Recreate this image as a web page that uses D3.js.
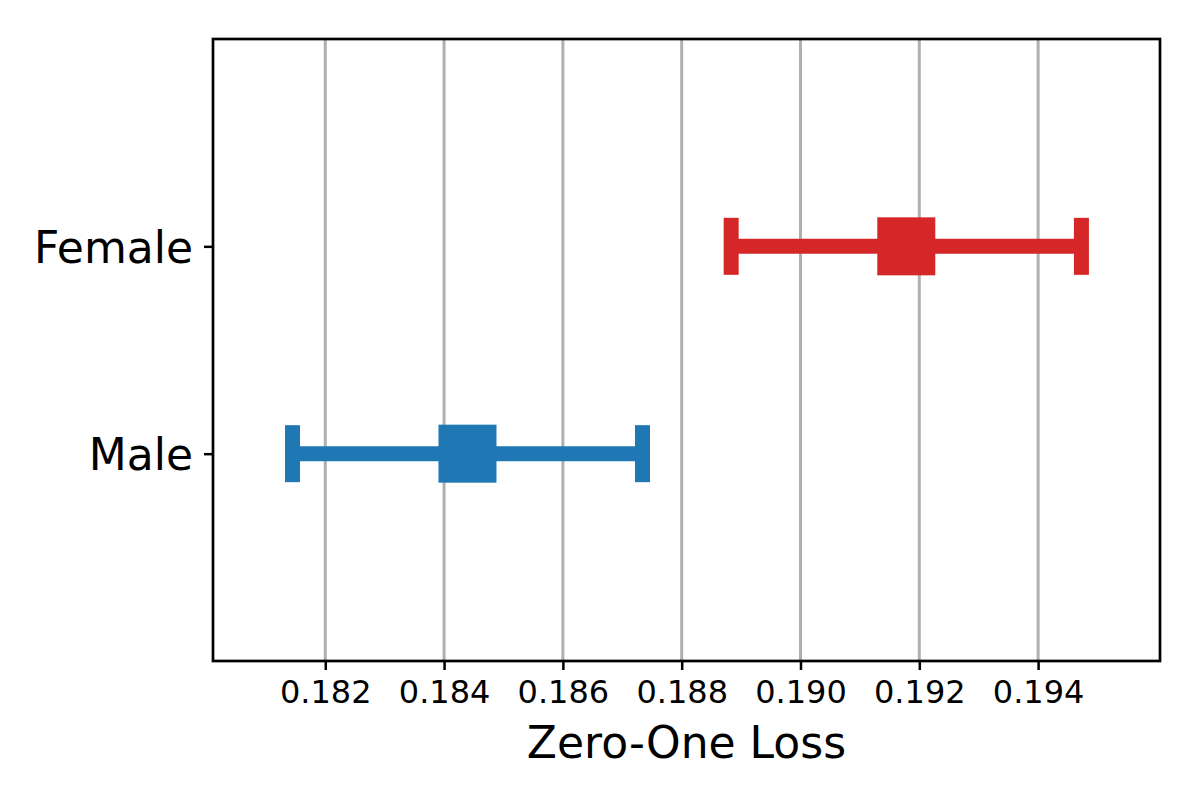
<!DOCTYPE html>
<html>
<head>
<meta charset="utf-8">
<script src="https://cdn.jsdelivr.net/npm/d3@7"></script>
<style>
  html, body { margin: 0; padding: 0; background: #fff; }
  svg { display: block; }
  text { font-family: "DejaVu Sans", sans-serif; fill: #000; }
</style>
</head>
<body>
<svg id="chart" width="1200" height="800"></svg>
<script>
// ---- data ----
const categories = ["Male", "Female"];
const means = [0.184394, 0.191781];
const errors = [0.002946, 0.002948];
const colors = ["#1f77b4", "#d62728"];
const xTicks = [0.182, 0.184, 0.186, 0.188, 0.190, 0.192, 0.194];
const xDomain = [0.18011, 0.196052];
const yDomain = [-1, 2];
const xLabel = "Zero-One Loss";

// ---- layout ----
const margin = { left: 213, right: 40, top: 39, bottom: 139 };
const W = 1200, H = 800;
const svg = d3.select("#chart");

const x = d3.scaleLinear().domain(xDomain).range([margin.left, W - margin.right]);
const y = d3.scaleLinear().domain(yDomain).range([H - margin.bottom, margin.top]);

// grid
svg.append("g").selectAll("line").data(xTicks).join("line")
  .attr("x1", d => x(d)).attr("x2", d => x(d))
  .attr("y1", y(yDomain[0])).attr("y2", y(yDomain[1]))
  .attr("stroke", "#b0b0b0").attr("stroke-width", 3);

// error bars
const g = svg.append("g");
categories.forEach((c, i) => {
  const cy = y(i);
  const lo = x(means[i] - errors[i]), hi = x(means[i] + errors[i]);
  g.append("line")
    .attr("x1", lo).attr("x2", hi).attr("y1", cy).attr("y2", cy)
    .attr("stroke", colors[i]).attr("stroke-width", 15);
  [lo, hi].forEach(px => {
    g.append("line")
      .attr("x1", px).attr("x2", px).attr("y1", cy - 28.5).attr("y2", cy + 28.5)
      .attr("stroke", colors[i]).attr("stroke-width", 15);
  });
  g.append("rect")
    .attr("x", x(means[i]) - 29).attr("y", cy - 29)
    .attr("width", 58).attr("height", 58)
    .attr("fill", colors[i]);
});

// x axis
const xAxis = d3.axisBottom(x).tickValues(xTicks).tickFormat(d3.format(".3f"))
  .tickSize(9).tickPadding(10);
const gx = svg.append("g").attr("transform", `translate(0,${H - margin.bottom})`).call(xAxis);
gx.select(".domain").remove();
gx.selectAll(".tick line").attr("stroke", "#000").attr("stroke-width", 2.5);
gx.selectAll(".tick text").attr("font-size", 32).attr("font-family", "DejaVu Sans").attr("fill", "#000");

// y axis
const yAxis = d3.axisLeft(y).tickValues(categories.map((c, i) => i))
  .tickFormat(i => categories[i]).tickSize(9).tickPadding(11);
const gy = svg.append("g").attr("transform", `translate(${margin.left},0)`).call(yAxis);
gy.select(".domain").remove();
gy.selectAll(".tick line").attr("stroke", "#000").attr("stroke-width", 2.5);
gy.selectAll(".tick text").attr("font-size", 44).attr("font-family", "DejaVu Sans")
  .attr("fill", "#000").attr("dy", "0.36em");

// frame
svg.append("rect")
  .attr("x", margin.left).attr("y", margin.top)
  .attr("width", W - margin.left - margin.right)
  .attr("height", H - margin.top - margin.bottom)
  .attr("fill", "none").attr("stroke", "#000").attr("stroke-width", 2.7);

// x label
svg.append("text")
  .attr("x", (margin.left + W - margin.right) / 2)
  .attr("y", 758)
  .attr("text-anchor", "middle")
  .attr("font-size", 44)
  .text(xLabel);
</script>
</body>
</html>
